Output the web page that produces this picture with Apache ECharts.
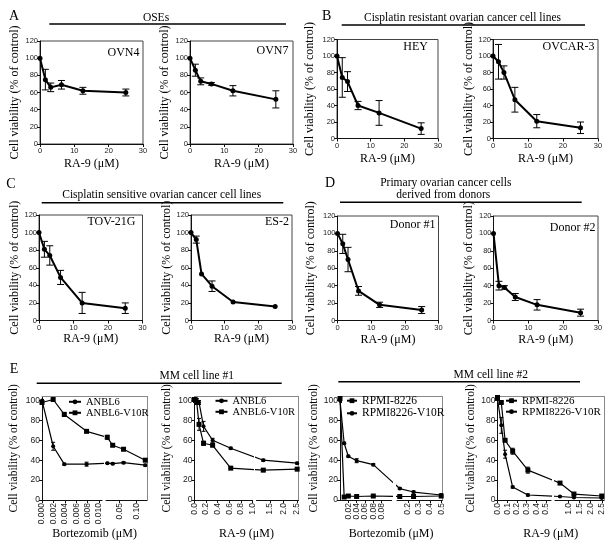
<!DOCTYPE html>
<html><head><meta charset="utf-8">
<script src="https://cdn.jsdelivr.net/npm/echarts@6/dist/echarts.min.js"></script>
<style>html,body{margin:0;padding:0;background:#fff}#c{width:615px;height:550px}</style>
</head><body><div id="c"></div>
<script>
// ---------------- DATA ----------------
const raX = [0, 1.5625, 3.125, 6.25, 12.5, 25];
const ovn4 = [100, 75, 66, 69, 62, 60];
const ovn4Err = [0, 12, 5, 5, 4, 4];
const ovn7 = [100, 86, 73, 70, 62, 52];
const ovn7Err = [0, 7, 4, 1.5, 6, 10];
const hey = [100, 74, 69, 40, 31, 12];
const heyErr = [0, 24, 12, 5, 15, 7];
const ovcar3 = [100, 93, 80, 47, 21, 13];
const ovcar3Err = [0, 21, 8, 15, 8, 7];
const tov21g = [100, 81, 74, 49, 20, 14];
const tov21gErr = [0, 9, 11, 8, 12, 6];
const es2 = [100, 92, 53, 39, 21, 16];
const es2Err = [0, 4, 0, 6, 0, 0];
const donor1 = [100, 88, 70, 34, 18, 12];
const donor1Err = [0, 11, 14, 5, 3, 4];
const donor2 = [100, 40, 38, 27, 18, 9];
const donor2Err = [0, 5, 2, 4, 6, 4];

const bzX1 = [0, 0.00195, 0.0039, 0.0078, 0.0156, 0.03125, 0.0625, 0.125];
const anbl6Bz = [100, 54, 36, 36, 37, 36.5, 37.5, 35];
const anbl6BzErr = [1, 4, 1, 2, 1, 1, 1, 1];
const anbl6v10rBz = [98, 101, 86, 69, 63, 55, 51, 40];
const anbl6v10rBzErr = [1, 1, 2, 1, 2, 1, 1, 1];

const raX2 = [0, 0.0195, 0.039, 0.078, 0.156, 0.3125, 0.625, 1.25, 2.5];
const anbl6Ra = [100, 101, 100, 98, 74, 60, 52, 40, 37];
const anbl6RaErr = [2, 2, 2, 2, 5, 2, 1, 1, 1];
const anbl6v10rRa = [101, 100, 98, 76, 57, 55, 32, 30, 31];
const anbl6v10rRaErr = [2, 2, 2, 6, 2, 1, 1, 1, 1];

const bzX3 = [0, 0.01, 0.02, 0.04, 0.08, 0.125, 0.25, 0.5];
const rpmiBz = [102, 3, 4, 3.5, 4, 3.5, 3.5, 4];
const rpmiBzErr = [3, 0.5, 0.5, 0.5, 0.5, 0.5, 0.5, 1];
const rpmiV10rBz = [100, 57, 44, 39.5, 35.5, 11.5, 8, 5];
const rpmiV10rBzErr = [2, 1, 1, 2, 1, 1, 1, 1];

const raX4 = [0, 0.039, 0.078, 0.156, 0.3125, 0.625, 1.25, 2.5];
const rpmiRa = [103, 98, 60, 49, 30, 17, 6, 4];
const rpmiRaErr = [2, 1, 1, 3, 3, 1, 1, 1];
const rpmiV10rRa = [102, 75, 46, 13, 5, 3.5, 2.5, 2];
const rpmiV10rRaErr = [2, 8, 4, 1, 1, 0.5, 0.5, 0.5];

// tick labels of the broken axes
const e1Ticks1 = [0, 0.002, 0.004, 0.006, 0.008, 0.010];
const e1Labels1 = ['0.000', '0.002', '0.004', '0.006', '0.008', '0.010'];
const e1Ticks2 = [0.05, 0.10];
const e1Labels2 = ['0.05', '0.10'];
const e2Ticks1 = [0, 0.2, 0.4, 0.6, 0.8, 1.0];
const e2Labels1 = ['0.0', '0.2', '0.4', '0.6', '0.8', '1.0'];
const e2Ticks2 = [1.0, 1.5, 2.0, 2.5];
const e2Labels2 = ['1.0', '1.5', '2.0', '2.5'];
const e3Ticks1 = [0, 0.02, 0.04, 0.06, 0.08, 0.10, 0.12];
const e3Labels1 = ['0.00', '0.02', '0.04', '0.06', '0.08', '0.08', '0.1'];
const e3Ticks2 = [0.1, 0.2, 0.3, 0.4, 0.5];
const e3Labels2 = ['0.1', '0.2', '0.3', '0.4', '0.5'];
const e4Ticks1 = [0, 0.1, 0.2, 0.3, 0.4, 0.5];
const e4Labels1 = ['0.0', '0.1', '0.2', '0.3', '0.4', '0.5'];
const e4Ticks2 = [0.5, 1.0, 1.5, 2.0, 2.5];
const e4Labels2 = ['0.5', '1.0', '1.5', '2.0', '2.5'];
const eYTicks = [0, 20, 40, 60, 80, 100];

// ---------------- BUILD ----------------
const SERIF = '"Liberation Serif","Times New Roman",serif';
const SANS = '"Liberation Sans",Arial,sans-serif';
const YNAME = 'Cell viability (% of control)';
const grids = [], xAxes = [], yAxes = [], series = [], graphics = [], legends = [];

function errSeries(xi, yi, data, cap) {
  return {
    type: 'custom', xAxisIndex: xi, yAxisIndex: yi, clip: true, silent: true, z: 3,
    animation: false, data: data,
    renderItem: function (params, api) {
      const x = api.value(0), y = api.value(1), e = api.value(2);
      if (!e) return null;
      const t = api.coord([x, y + e]), b = api.coord([x, y - e]);
      const c = cap / 2;
      const st = { stroke: '#000', lineWidth: 1 };
      return { type: 'group', children: [
        { type: 'line', shape: { x1: t[0], y1: t[1], x2: b[0], y2: b[1] }, style: st },
        { type: 'line', shape: { x1: t[0] - c, y1: t[1], x2: t[0] + c, y2: t[1] }, style: st },
        { type: 'line', shape: { x1: b[0] - c, y1: b[1], x2: b[0] + c, y2: b[1] }, style: st }
      ]};
    }
  };
}

function simplePanel(p) {
  const gi = grids.length;
  grids.push({ left: p.l, top: p.t, width: p.r - p.l, height: p.b - p.t, show: true,
    borderColor: '#444', borderWidth: 1, backgroundColor: 'transparent' });
  const xi = xAxes.length, yi = yAxes.length;
  xAxes.push({ gridIndex: gi, type: 'value', min: 0, max: 30, interval: 10,
    axisLine: { show: true, onZero: false, lineStyle: { color: '#111', width: 1 } },
    axisTick: { show: true, length: 3, lineStyle: { color: '#111' } },
    axisLabel: { fontSize: 7.5, color: '#222', margin: 3, fontFamily: SANS },
    splitLine: { show: false },
    name: 'RA-9 (μM)', nameLocation: 'middle', nameGap: p.xg,
    nameTextStyle: { fontFamily: SERIF, fontSize: 12, color: '#000' } });
  yAxes.push({ gridIndex: gi, type: 'value', min: 0, max: 120, interval: 20,
    axisLine: { show: true, onZero: false, lineStyle: { color: '#111', width: 1 } },
    axisTick: { show: true, length: 3, lineStyle: { color: '#111' } },
    axisLabel: { fontSize: 7.5, color: '#222', margin: 2, fontFamily: SANS },
    splitLine: { show: false },
    name: YNAME, nameLocation: 'middle', nameGap: p.yg,
    nameTextStyle: { fontFamily: SERIF, fontSize: 12, color: '#000' } });
  series.push({ type: 'line', xAxisIndex: xi, yAxisIndex: yi, animation: false,
    data: raX.map((x, i) => [x, p.y[i]]), symbol: 'circle', symbolSize: 5,
    lineStyle: { color: '#000', width: 2 }, itemStyle: { color: '#000' }, z: 4 });
  series.push(errSeries(xi, yi, raX.map((x, i) => [x, p.y[i], p.e[i]]), 7));
  graphics.push({ type: 'text', x: p.lx, y: p.ly, style: { text: p.label,
    font: '12px ' + SERIF, fill: '#000', textAlign: 'right', textVerticalAlign: 'middle' } });
}

function ePanel(p) {
  const T = 396.5, B = 500;
  const W = p.s1.w + p.gap + p.s2.w;
  const tf = x => (x <= p.s1.max)
    ? (x - p.s1.min) / (p.s1.max - p.s1.min) * p.s1.w
    : p.s1.w + p.gap + (x - p.s2.min) / (p.s2.max - p.s2.min) * p.s2.w;
  // frame grid (top + right border, x-axis name)
  const fg = grids.length;
  grids.push({ left: p.l, top: T, width: W, height: B - T });
  xAxes.push({ gridIndex: fg, type: 'value', position: 'top', min: 0, max: 1,
    axisLine: { show: true, onZero: false, lineStyle: { color: '#888' } },
    axisTick: { show: false }, axisLabel: { show: false }, splitLine: { show: false } });
  xAxes.push({ gridIndex: fg, type: 'value', position: 'bottom', min: 0, max: 1,
    axisLine: { show: false, onZero: false }, axisTick: { show: false },
    axisLabel: { show: false }, splitLine: { show: false },
    name: p.xname, nameLocation: 'middle', nameGap: 28,
    nameTextStyle: { fontFamily: SERIF, fontSize: 12, color: '#000' } });
  yAxes.push({ gridIndex: fg, type: 'value', position: 'right', min: 0, max: 1,
    axisLine: { show: true, onZero: false, lineStyle: { color: '#888' } },
    axisTick: { show: false }, axisLabel: { show: false }, splitLine: { show: false } });
  [p.s1, p.s2].forEach((s, k) => {
    const off = k === 0 ? 0 : p.s1.w + p.gap;
    const gi = grids.length;
    grids.push({ left: p.l + off, top: T, width: s.w, height: B - T });
    const cv = s.ticks.map(tf);
    const xi = xAxes.length, yi = yAxes.length;
    xAxes.push({ gridIndex: gi, type: 'value', min: off, max: off + s.w,
      axisLine: { show: true, onZero: false, lineStyle: { color: '#111' } },
      axisTick: { show: true, length: 3, customValues: cv, lineStyle: { color: '#111' } },
      axisLabel: { customValues: cv, rotate: 90, fontSize: 8.5, margin: 3, color: '#222',
        fontFamily: SANS, formatter: function (v) {
          let bi = 0, bd = Infinity;
          cv.forEach((c, i) => { const d = Math.abs(c - v); if (d < bd) { bd = d; bi = i; } });
          return s.labels[bi];
        } },
      splitLine: { show: false } });
    yAxes.push({ gridIndex: gi, type: 'value', min: 0, max: 104,
      axisLine: { show: k === 0, onZero: false, lineStyle: { color: '#111' } },
      axisTick: { show: k === 0, length: 3, customValues: eYTicks, lineStyle: { color: '#111' } },
      axisLabel: { show: k === 0, customValues: eYTicks, fontSize: 8.5, margin: 2,
        color: '#222', fontFamily: SANS },
      splitLine: { show: false },
      name: k === 0 ? YNAME : '', nameLocation: 'middle', nameGap: p.yg,
      nameTextStyle: { fontFamily: SERIF, fontSize: 11.5, color: '#000' } });
    p.series.forEach(sr => {
      series.push({ type: 'line', name: sr.name, xAxisIndex: xi, yAxisIndex: yi,
        animation: false, clip: true, z: 4,
        data: p.x.map((x, i) => [tf(x), sr.y[i]]), symbol: sr.symbol, symbolSize: sr.size,
        lineStyle: { color: '#000', width: 1.2 }, itemStyle: { color: '#000' } });
      series.push(errSeries(xi, yi, p.x.map((x, i) => [tf(x), sr.y[i], sr.e[i]]), 4));
    });
  });
  legends.push({ left: p.legL, top: p.legT, orient: 'vertical', padding: 0, itemGap: 0,
    itemWidth: p.legW, itemHeight: 6, itemTextGap: 2, selectedMode: false,
    data: p.series.map(s => s.name),
    textStyle: { fontFamily: SERIF, fontSize: p.legFs, lineHeight: p.legLh, color: '#000' } });
}

// A-D panels
simplePanel({ l: 40, r: 143, t: 41, b: 144, y: ovn4, e: ovn4Err, label: 'OVN4', lx: 139.5, ly: 52.7, xg: 14, yg: 19 });
simplePanel({ l: 190, r: 293, t: 41, b: 144, y: ovn7, e: ovn7Err, label: 'OVN7', lx: 288.5, ly: 51, xg: 14, yg: 19 });
simplePanel({ l: 337, r: 438, t: 39.5, b: 138.5, y: hey, e: heyErr, label: 'HEY', lx: 428, ly: 47, xg: 14, yg: 21 });
simplePanel({ l: 493, r: 598, t: 39.5, b: 138.5, y: ovcar3, e: ovcar3Err, label: 'OVCAR-3', lx: 594.5, ly: 47, xg: 14, yg: 14 });
simplePanel({ l: 39, r: 142.5, t: 215, b: 320.5, y: tov21g, e: tov21gErr, label: 'TOV-21G', lx: 135.5, ly: 222, xg: 12, yg: 18 });
simplePanel({ l: 191, r: 292, t: 215, b: 320.5, y: es2, e: es2Err, label: 'ES-2', lx: 289, ly: 222, xg: 12, yg: 18 });
simplePanel({ l: 337.5, r: 438.5, t: 216, b: 320.5, y: donor1, e: donor1Err, label: 'Donor #1', lx: 435.5, ly: 225, xg: 13.5, yg: 21 });
simplePanel({ l: 493.5, r: 598, t: 216, b: 320.5, y: donor2, e: donor2Err, label: 'Donor #2', lx: 595.5, ly: 227.5, xg: 13.5, yg: 14.5 });

// E panels (broken x axes)
ePanel({ l: 42, gap: 4, xname: 'Bortezomib (μM)', yg: 22, x: bzX1,
  s1: { w: 60, min: 0, max: 0.0105, ticks: e1Ticks1, labels: e1Labels1 },
  s2: { w: 41, min: 0.012, max: 0.13, ticks: e1Ticks2, labels: e1Labels2 },
  series: [
    { name: 'ANBL6', y: anbl6Bz, e: anbl6BzErr, symbol: 'circle', size: 4 },
    { name: 'ANBL6-V10R', y: anbl6v10rBz, e: anbl6v10rBzErr, symbol: 'rect', size: 5 }],
  legL: 68, legT: 396.3, legW: 12, legFs: 10.5, legLh: 9.5 });
ePanel({ l: 194.5, gap: 4, xname: 'RA-9 (μM)', yg: 22, x: raX2,
  s1: { w: 58, min: 0, max: 1.0, ticks: e2Ticks1, labels: e2Labels1 },
  s2: { w: 42, min: 1.0, max: 2.55, ticks: e2Ticks2, labels: e2Labels2 },
  series: [
    { name: 'ANBL6', y: anbl6Ra, e: anbl6RaErr, symbol: 'circle', size: 4 },
    { name: 'ANBL6-V10R', y: anbl6v10rRa, e: anbl6v10rRaErr, symbol: 'rect', size: 5 }],
  legL: 214.5, legT: 395.3, legW: 12, legFs: 10.5, legLh: 9.5 });
ePanel({ l: 340, gap: 5.4, xname: 'Bortezomib (μM)', yg: 18, x: bzX3,
  s1: { w: 51.6, min: 0, max: 0.124, ticks: e3Ticks1, labels: e3Labels1 },
  s2: { w: 45.3, min: 0.1, max: 0.51, ticks: e3Ticks2, labels: e3Labels2 },
  series: [
    { name: 'RPMI-8226', y: rpmiBz, e: rpmiBzErr, symbol: 'rect', size: 5 },
    { name: 'RPMI8226-V10R', y: rpmiV10rBz, e: rpmiV10rBzErr, symbol: 'circle', size: 4 }],
  legL: 346, legT: 394.4, legW: 10, legFs: 11.5, legLh: 12.6 });
ePanel({ l: 497.5, gap: 4, xname: 'RA-9 (μM)', yg: 20, x: raX4,
  s1: { w: 53.5, min: 0, max: 0.55, ticks: e4Ticks1, labels: e4Labels1 },
  s2: { w: 49, min: 0.4, max: 2.6, ticks: e4Ticks2, labels: e4Labels2 },
  series: [
    { name: 'RPMI-8226', y: rpmiRa, e: rpmiRaErr, symbol: 'rect', size: 5 },
    { name: 'RPMI8226-V10R', y: rpmiV10rRa, e: rpmiV10rRaErr, symbol: 'circle', size: 4 }],
  legL: 505, legT: 395.2, legW: 11, legFs: 11, legLh: 11 });

// headings, letters and section rules
function txt(x, y, s, size, align) {
  graphics.push({ type: 'text', x: x, y: y, style: { text: s, font: size + 'px ' + SERIF,
    fill: '#000', textAlign: align || 'center', textVerticalAlign: 'middle' } });
}
function rule(x1, x2, y) {
  graphics.push({ type: 'line', shape: { x1: x1, y1: y, x2: x2, y2: y },
    style: { stroke: '#000', lineWidth: 1.5 } });
}
txt(14, 16, 'A', 14); txt(326.7, 16, 'B', 14); txt(11, 184, 'C', 14);
txt(330, 183.3, 'D', 14); txt(14, 369.3, 'E', 14);
txt(156, 17.5, 'OSEs', 11.5); rule(49.3, 286, 24);
txt(462.5, 18.3, 'Cisplatin resistant ovarian cancer cell lines', 11.5); rule(341.7, 585, 25);
txt(161.7, 195, 'Cisplatin sensitive ovarian cancer cell lines', 11.5); rule(41.7, 283.3, 202.7);
txt(445.8, 183.3, 'Primary ovarian cancer cells', 11.5);
txt(443.3, 195, 'derived from donors', 11.5); rule(340, 581.7, 202.3);
txt(196.7, 375.5, 'MM cell line #1', 11.5); rule(36.7, 281.7, 383.3);
txt(490.8, 374.5, 'MM cell line #2', 11.5); rule(338.3, 580, 381.7);

const chart = echarts.init(document.getElementById('c'), null, { renderer: 'canvas', width: 615, height: 550 });
chart.setOption({
  animation: false,
  backgroundColor: '#fff',
  grid: grids, xAxis: xAxes, yAxis: yAxes, series: series,
  legend: legends, graphic: graphics
});
</script></body></html>
